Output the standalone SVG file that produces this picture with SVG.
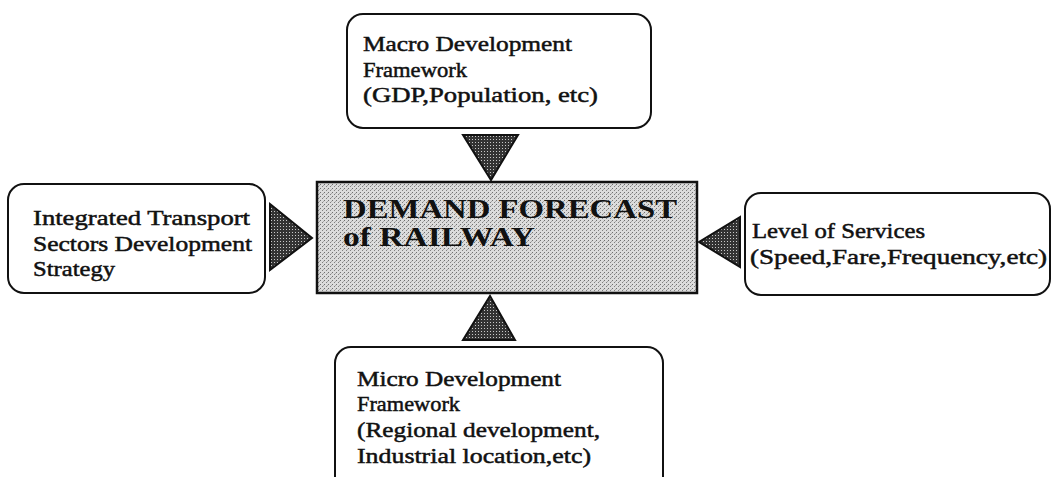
<svg xmlns="http://www.w3.org/2000/svg" width="1053" height="477" viewBox="0 0 1053 477">
  <defs>
    <!-- halftone-like stipple for the central box -->
    <pattern id="stipple" width="4" height="4" patternUnits="userSpaceOnUse">
      <rect width="4" height="4" fill="#dcdcdc"/>
      <rect x="0" y="0" width="1" height="1" fill="#707070"/>
      <rect x="2" y="2" width="1" height="1" fill="#808080"/>
      <rect x="3" y="1" width="1" height="1" fill="#a8a8a8"/>
    </pattern>
    <!-- denser stipple for the arrowheads -->
    <pattern id="darkStipple" width="3" height="3" patternUnits="userSpaceOnUse">
      <rect width="3" height="3" fill="#333333"/>
      <rect x="1" y="1" width="1" height="1" fill="#c8c8c8"/>
    </pattern>
  </defs>
  <style>
    .box { fill: #ffffff; stroke: #111111; stroke-width: 2; }
    .core { fill: url(#stipple); stroke: #111111; stroke-width: 2.5; }
    .head { fill: url(#darkStipple); stroke: #111111; stroke-width: 2; stroke-linejoin: miter; }
    .lbl { font-family: "Liberation Serif", "Times New Roman", serif; font-size: 22px; fill: #111111; stroke: #111111; stroke-width: 0.5; }
    .title { font-family: "Liberation Serif", "Times New Roman", serif; font-size: 28px; font-weight: bold; fill: #111111; }
  </style>
  <rect width="1053" height="477" fill="#ffffff"/>

  <!-- upper input: macro framework -->
  <g id="macro">
    <rect class="box" x="347" y="14" width="304" height="114" rx="16" ry="16"/>
    <text class="lbl" x="363" y="51" textLength="209" lengthAdjust="spacingAndGlyphs">Macro Development</text>
    <text class="lbl" x="363" y="77" textLength="104" lengthAdjust="spacingAndGlyphs">Framework</text>
    <text class="lbl" x="363" y="102" textLength="235" lengthAdjust="spacingAndGlyphs">(GDP,Population, etc)</text>
  </g>

  <!-- left input: transport strategy -->
  <g id="strategy">
    <rect class="box" x="8" y="184" width="257" height="109" rx="16" ry="16"/>
    <text class="lbl" x="33" y="225" textLength="217" lengthAdjust="spacingAndGlyphs">Integrated Transport</text>
    <text class="lbl" x="33" y="251" textLength="219" lengthAdjust="spacingAndGlyphs">Sectors Development</text>
    <text class="lbl" x="33" y="276" textLength="82" lengthAdjust="spacingAndGlyphs">Strategy</text>
  </g>

  <!-- central node: the forecast -->
  <g id="forecast">
    <rect class="core" x="317" y="182" width="380" height="111"/>
    <text class="title" x="343" y="218" textLength="334" lengthAdjust="spacingAndGlyphs">DEMAND FORECAST</text>
    <text class="title" x="343" y="246" textLength="192" lengthAdjust="spacingAndGlyphs">of RAILWAY</text>
  </g>

  <!-- right input: level of services -->
  <g id="services">
    <rect class="box" x="745" y="193" width="305" height="102" rx="16" ry="16"/>
    <text class="lbl" x="752" y="238" textLength="173" lengthAdjust="spacingAndGlyphs">Level of Services</text>
    <text class="lbl" x="750" y="264" textLength="297" lengthAdjust="spacingAndGlyphs">(Speed,Fare,Frequency,etc)</text>
  </g>

  <!-- lower input: micro framework -->
  <g id="micro">
    <rect class="box" x="335" y="347" width="328" height="150" rx="16" ry="16"/>
    <text class="lbl" x="357" y="386" textLength="204" lengthAdjust="spacingAndGlyphs">Micro Development</text>
    <text class="lbl" x="357" y="411" textLength="103" lengthAdjust="spacingAndGlyphs">Framework</text>
    <text class="lbl" x="357" y="437" textLength="243" lengthAdjust="spacingAndGlyphs">(Regional development,</text>
    <text class="lbl" x="357" y="463" textLength="234" lengthAdjust="spacingAndGlyphs">Industrial location,etc)</text>
  </g>

  <!-- arrowheads pointing into the forecast -->
  <g id="connectors">
    <polygon class="head" points="463,135 518,135 491,180"/>
    <polygon class="head" points="270,204 312,238 270,270"/>
    <polygon class="head" points="740,217 699,242 740,267"/>
    <polygon class="head" points="463,340 515,340 490,296"/>
  </g>
</svg>
